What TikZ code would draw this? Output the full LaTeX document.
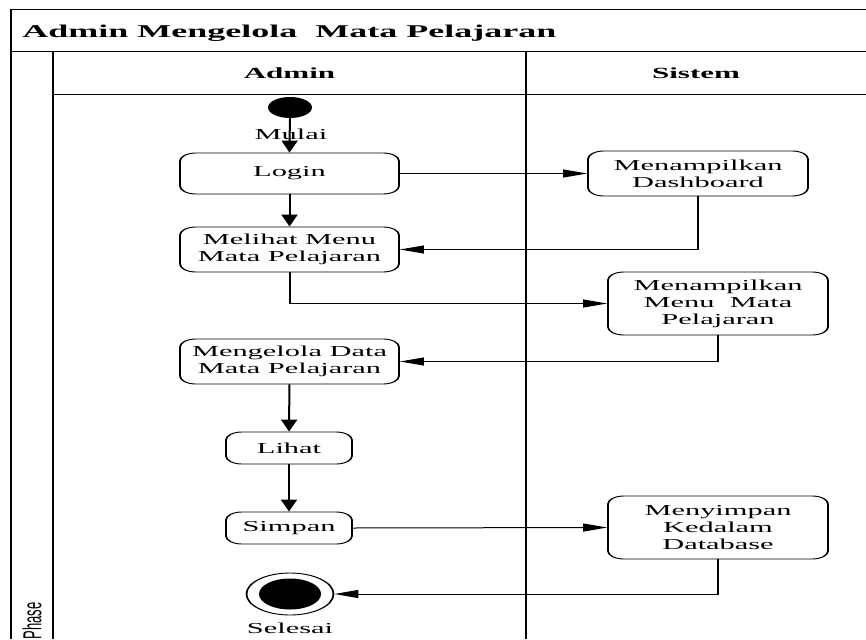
\documentclass[tikz,border=0pt]{standalone}
\usepackage{fontspec}
\setmainfont{Liberation Serif}
\newfontfamily\phasefont{Liberation Sans}
\usetikzlibrary{arrows.meta,shapes.geometric}
\begin{document}
\begin{tikzpicture}
\useasboundingbox[fill=white] (0,0) rectangle (866pt,-639pt);
% the whole sheet is drawn at half width and widened by the canvas transform
\begin{scope}[transform canvas={xscale=2}, x=0.5pt, y=-1pt,
  body/.style={font=\fontsize{15.2}{17}\selectfont},
  act/.style={body, draw, rounded corners=8pt, line width=0.9pt, align=center, inner sep=0pt},
  flow/.style={line width=1pt, -{Triangle[length=12pt,width=8pt]}},
  lane/.style={line width=1pt},
  head/.style={font=\fontsize{15.5}{18}\bfseries\selectfont, inner sep=0pt}]

% swimlane frame
\draw[lane] (11,639) -- (11,10) -- (866,10);
\draw[lane] (11,52) -- (866,52);
\draw[lane] (53,52) -- (53,639);
\draw[lane] (53,95) -- (866,95);
\draw[lane] (526,52) -- (526,639);

\node[anchor=base west, inner sep=0pt, font=\fontsize{18}{20}\bfseries\selectfont]
  (title) at (22,37.7) {Admin Mengelola\ \ Mata Pelajaran};
\node[head] (hadmin) at (289.5,73) {Admin};
\node[head] (hsistem) at (696,73) {Sistem};
\node[rotate=90, inner sep=0pt, font=\phasefont\fontsize{13}{15}\selectfont] (phase) at (32,621) {Phase};

% start and end
\node[ellipse, fill=black, minimum width=22pt, minimum height=21pt, inner sep=0pt] (start) at (290,107.5) {};
\node[body, inner sep=0pt] (mulai) at (291,134) {Mulai};
\node[ellipse, draw, line width=0.9pt, minimum width=43.5pt, minimum height=42pt, inner sep=0pt] (stop) at (290,594) {};
\node[ellipse, fill=black, minimum width=31pt, minimum height=31pt, inner sep=0pt] (stopin) at (290,594) {};
\node[body, inner sep=0pt] (selesai) at (290,628) {Selesai};

% activities
\node[act, minimum width=109.5pt, minimum height=41pt] (login) at (289.5,173.5) {Login};
\node[act, minimum width=109.5pt, minimum height=45pt] (melihat) at (289.5,249.5) {Melihat Menu\\Mata Pelajaran};
\node[act, minimum width=109.5pt, minimum height=45pt] (kelola) at (289.5,361.5) {Mengelola Data\\Mata Pelajaran};
\node[act, minimum width=63pt, minimum height=32pt] (lihat) at (289,448) {Lihat};
\node[act, minimum width=63pt, minimum height=32pt] (simpan) at (289,528) {Simpan};
\node[act, minimum width=110pt, minimum height=45pt] (dash) at (698,173.5) {Menampilkan\\Dashboard};
\node[act, minimum width=110pt, minimum height=63pt] (menu) at (718,303.5) {Menampilkan\\Menu\ \ Mata\\Pelajaran};
\node[act, minimum width=110pt, minimum height=63pt] (db) at (718,527.5) {Menyimpan\\Kedalam\\Database};

% control flow
\draw[flow] (start.center) -- (login.north);
\draw[flow] (login) -- (melihat);
\draw[flow] (login.east) -- (dash.west);
\draw[flow] (dash.south) |- (melihat.east);
\draw[flow] (melihat.south) |- (menu.west);
\draw[flow] (menu.south) |- (kelola.east);
\draw[flow] (kelola) -- (lihat);
\draw[flow] (lihat) -- (simpan);
\draw[flow] (simpan.east) -- (db.west);
\draw[flow] (db.south) |- (stop.east);
\end{scope}
\end{tikzpicture}
\end{document}
